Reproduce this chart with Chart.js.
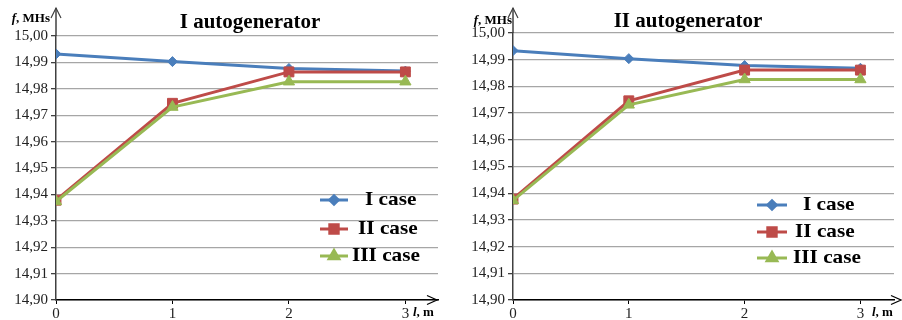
<!DOCTYPE html>
<html>
<head>
<meta charset="utf-8">
<script src="https://cdn.jsdelivr.net/npm/chart.js@4/dist/chart.umd.min.js"></script>
<style>
  html, body { margin: 0; padding: 0; background: #fff; }
  #wrap { position: relative; width: 902px; height: 320px; }
  canvas { position: absolute; top: 0; }
  #c1 { left: 0; }
  #c2 { left: 451px; }
</style>
</head>
<body>
<div id="wrap">
  <canvas id="c1" width="451" height="320"></canvas>
  <canvas id="c2" width="451" height="320"></canvas>
</div>
<script>
// cable length l, m
const lengths = [0, 1, 2, 3];
// frequency axis ticks, MHz
const freqTicks = [14.90, 14.91, 14.92, 14.93, 14.94, 14.95, 14.96, 14.97, 14.98, 14.99, 15.00];
const caseLabels = ['I case', 'II case', 'III case'];

// I autogenerator, f (MHz) vs l
const gen1Case1 = [14.9932, 14.9903, 14.9877, 14.9867];
const gen1Case2 = [14.9378, 14.9745, 14.9864, 14.9864];
const gen1Case3 = [14.9373, 14.9731, 14.9827, 14.9827];

// II autogenerator, f (MHz) vs l
const gen2Case1 = [14.9934, 14.9904, 14.9878, 14.9868];
const gen2Case2 = [14.9378, 14.9746, 14.9861, 14.9861];
const gen2Case3 = [14.9373, 14.9731, 14.9826, 14.9826];

const SERIF = '"Liberation Serif", "Times New Roman", serif';
const styles = [
  { color: '#4a7ebb', pointStyle: 'rectRot', radius: 5, order: 2 },
  { color: '#be4b48', pointStyle: 'rect', radius: 7, order: 1 },
  { color: '#98b954', pointStyle: 'triangle', radius: 6.5, order: 0 }
];

function drawParts(ctx, parts, x, y, size, sx, align) {
  // parts: [{t, italic}] drawn bold serif, horizontally scaled by sx
  ctx.save();
  ctx.textBaseline = 'middle';
  ctx.fillStyle = '#000';
  let total = 0;
  const widths = parts.map(p => {
    ctx.font = (p.italic ? 'italic ' : '') + 'bold ' + size + 'px ' + SERIF;
    const w = ctx.measureText(p.t).width;
    total += w;
    return w;
  });
  let start = align === 'right' ? x - total * sx : align === 'center' ? x - total * sx / 2 : x;
  ctx.translate(start, y);
  ctx.scale(sx, 1);
  let cx = 0;
  parts.forEach((p, i) => {
    ctx.font = (p.italic ? 'italic ' : '') + 'bold ' + size + 'px ' + SERIF;
    ctx.textAlign = 'left';
    ctx.fillText(p.t, cx, 0);
    cx += widths[i];
  });
  ctx.restore();
}

function decorPlugin(g) {
  return {
    id: 'decor',
    afterDraw(chart) {
      const ctx = chart.ctx;
      const a = chart.chartArea;
      ctx.save();
      // y axis extension and arrow
      ctx.strokeStyle = '#404040';
      ctx.lineWidth = 1.5;
      ctx.beginPath();
      ctx.moveTo(a.left, a.top);
      ctx.lineTo(a.left, g.yTip);
      ctx.stroke();
      ctx.lineWidth = 1.2;
      ctx.beginPath();
      ctx.moveTo(a.left - 5, g.yTip + 10);
      ctx.lineTo(a.left, g.yTip);
      ctx.lineTo(a.left + 5, g.yTip + 10);
      ctx.stroke();
      // x axis arrow
      ctx.strokeStyle = '#000';
      ctx.beginPath();
      ctx.moveTo(g.xTip - 10, a.bottom - 4.5);
      ctx.lineTo(g.xTip, a.bottom);
      ctx.lineTo(g.xTip - 10, a.bottom + 4.5);
      ctx.stroke();
      ctx.restore();

      // axis names
      drawParts(ctx, [{ t: 'f', italic: true }, { t: ', MHs' }], g.fX, g.fY, 13, 1.0, 'right');
      drawParts(ctx, [{ t: 'l', italic: true }, { t: ', m' }], g.lX, g.lY, 13, 1.0, 'left');

      // title
      drawParts(ctx, [{ t: g.title }], g.titleX, g.titleY, 20, 1.05, 'center');

      // legend
      chart.data.datasets.forEach((ds, i) => {
        const y = g.legY[i];
        ctx.save();
        ctx.strokeStyle = ds.borderColor;
        ctx.lineWidth = 3;
        ctx.beginPath();
        ctx.moveTo(g.legX0, y);
        ctx.lineTo(g.legX1, y);
        ctx.stroke();
        ctx.fillStyle = ds.borderColor;
        ctx.strokeStyle = ds.borderColor;
        Chart.helpers.drawPoint(ctx, {
          pointStyle: ds.pointStyle, radius: ds.pointRadius * 0.85, rotation: 0, borderWidth: 1
        }, (g.legX0 + g.legX1) / 2, y);
        ctx.restore();
        drawParts(ctx, [{ t: ds.label }], g.legTextX[i], y, 19, 1.12, 'left');
      });
    }
  };
}

function makeChart(id, series, g) {
  const datasets = series.map((vals, i) => ({
    label: caseLabels[i],
    data: lengths.map((l, k) => ({ x: l, y: vals[k] })),
    borderColor: styles[i].color,
    backgroundColor: styles[i].color,
    pointStyle: styles[i].pointStyle,
    pointRadius: styles[i].radius,
    pointBorderWidth: 1,
    borderWidth: 3,
    tension: 0,
    order: styles[i].order
  }));
  return new Chart(document.getElementById(id), {
    type: 'line',
    data: { datasets },
    options: {
      responsive: false,
      animation: false,
      devicePixelRatio: 1,
      layout: { padding: { top: g.top, right: g.padRight, left: 0, bottom: 0 } },
      plugins: { legend: { display: false }, tooltip: { enabled: false } },
      scales: {
        x: {
          type: 'linear',
          min: 0,
          max: g.xMax,
          afterBuildTicks: s => { s.ticks = lengths.map(v => ({ value: v })); },
          afterFit: s => { s.height = 20; },
          grid: { drawOnChartArea: false, tickLength: 4, tickColor: '#000', lineWidth: 1 },
          border: { color: '#000', width: 1.5 },
          ticks: {
            padding: 1, autoSkip: false, maxRotation: 0,
            color: '#222', font: { family: SERIF, size: 15 },
            callback: v => String(v)
          }
        },
        y: {
          min: 14.90,
          max: 15.00,
          afterBuildTicks: s => { s.ticks = freqTicks.map(v => ({ value: v })); },
          afterFit: s => { s.width = g.left; },
          grid: { color: '#a6a6a6', lineWidth: 1.3, tickLength: 5, tickColor: '#404040' },
          border: { color: '#404040', width: 1.5 },
          ticks: {
            padding: 3, color: '#222', font: { family: SERIF, size: 15 },
            callback: v => Number(v).toFixed(2).replace('.', ',')
          }
        }
      }
    },
    plugins: [decorPlugin(g)]
  });
}

makeChart('c1', [gen1Case1, gen1Case2, gen1Case3], {
  title: 'I autogenerator', titleX: 250, titleY: 23,
  top: 36, left: 56, padRight: 13, xMax: 3.28,
  yTip: 8, xTip: 437,
  fX: 50, fY: 19, lX: 413, lY: 313,
  legX0: 320, legX1: 348, legTextX: [365, 358, 352], legY: [200, 229, 256]
});

makeChart('c2', [gen2Case1, gen2Case2, gen2Case3], {
  title: 'II autogenerator', titleX: 237, titleY: 22,
  top: 33, left: 62, padRight: 0, xMax: 3.29,
  yTip: 8, xTip: 450,
  fX: 61, fY: 21, lX: 421, lY: 313,
  legX0: 306, legX1: 336, legTextX: [352, 344, 342], legY: [205, 232, 258]
});
</script>
</body>
</html>
